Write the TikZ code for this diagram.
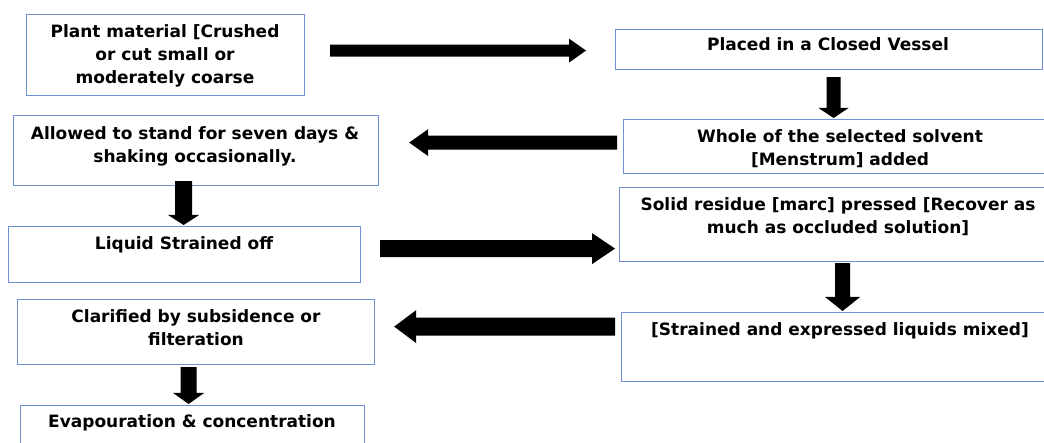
\documentclass[tikz,border=0pt]{standalone}
\usepackage{fontspec}
\setmainfont{DejaVu Sans}
\usetikzlibrary{calc}
\definecolor{boxblue}{RGB}{112,146,212}
\newcommand{\mybarrow}[5]{%
  \coordinate (ba-s) at #1;
  \coordinate (ba-e) at #2;
  \coordinate (ba-h) at ($(ba-e)!#4!(ba-s)$);
  \fill[arrowfill] ($(ba-s)!#3!90:(ba-e)$) -- ($(ba-h)!#3!-90:(ba-s)$) -- ($(ba-h)!#5!-90:(ba-s)$) -- (ba-e) -- ($(ba-h)!#5!90:(ba-s)$) -- ($(ba-h)!#3!90:(ba-s)$) -- ($(ba-s)!#3!-90:(ba-e)$) -- cycle;}
\begin{document}
\begin{tikzpicture}[x=1pt,y=-1pt,
  box/.style={draw=boxblue, line width=1.2pt, rectangle, inner sep=0pt, anchor=north west},
  txt/.style={font=\bfseries\fontsize{17}{23}\selectfont, align=center, inner sep=0pt, anchor=north},
  arrowfill/.style={fill=black}]
\useasboundingbox (0,0) rectangle (1044,443);
\fill[white] (0,0) rectangle (1044,443);
\clip (0,0) rectangle (1044,443);
% boxes
\node[box, minimum width=278pt, minimum height=81pt] (b1) at (26,14) {};
\node[box, minimum width=427pt, minimum height=40pt] (b2) at (615,29) {};
\node[box, minimum width=365pt, minimum height=70pt] (b3) at (13,115) {};
\node[box, minimum width=434pt, minimum height=54pt] (b4) at (623,119) {};
\node[box, minimum width=352pt, minimum height=56pt] (b5) at (8,226) {};
\node[box, minimum width=438pt, minimum height=74pt] (b6) at (619,187) {};
\node[box, minimum width=357pt, minimum height=65pt] (b7) at (17,299) {};
\node[box, minimum width=438pt, minimum height=69pt] (b8) at (621,312) {};
\node[box, minimum width=344pt, minimum height=60pt] (b9) at (20,405) {};
% texts
\node[txt] (t1) at (165,24.5) {Plant material [Crushed\\or cut small or\\moderately coarse};
\node[txt] (t2) at (828,37.5) {Placed in a Closed Vessel};
\node[txt] (t3) at (195,126.5) {Allowed to stand for seven days \&\\shaking occasionally.};
\node[txt] (t4) at (840,129.5) {Whole of the selected solvent\\{}[Menstrum] added};
\node[txt] (t5) at (184,236.5) {Liquid Strained off};
\node[txt] (t6) at (838,197.5) {Solid residue [marc] pressed [Recover as\\much as occluded solution]};
\node[txt] (t7) at (196,309.5) {Clarified by subsidence or\\filteration};
\node[txt] (t8) at (840,322.5) {{}[Strained and expressed liquids mixed]};
\node[txt] (t9) at (192,414.5) {Evapouration \& concentration};
% block arrows
\mybarrow{($(b1.east)+(25,-4.5)$)}{($(b2.west)+(-29,1)$)}{6pt}{17pt}{12pt}
\mybarrow{($(b2.south)+(4.5,7)$)}{($(b4.north)+(-7,-1)$)}{7pt}{10pt}{15pt}
\mybarrow{($(b4.west)+(-6,-4)$)}{($(b3.east)+(30,-8)$)}{7pt}{19pt}{13.5pt}
\mybarrow{($(b3.south)+(-12.5,-5)$)}{($(b5.north)+(-1,-1)$)}{8.5pt}{10pt}{15.5pt}
\mybarrow{($(b5.east)+(19,-6)$)}{($(b6.west)+(-4,24)$)}{8.5pt}{23pt}{15.5pt}
\mybarrow{($(b6.south)+(4,1)$)}{($(b8.north)+(2,-1)$)}{7.5pt}{14pt}{17.5pt}
\mybarrow{($(b8.west)+(-6,-20.5)$)}{($(b7.east)+(19,-5.5)$)}{9pt}{22pt}{16.5pt}
\mybarrow{($(b7.south)+(-7.5,2)$)}{($(b9.north)+(-4,-1)$)}{8pt}{11pt}{15.5pt}
\end{tikzpicture}
\end{document}
